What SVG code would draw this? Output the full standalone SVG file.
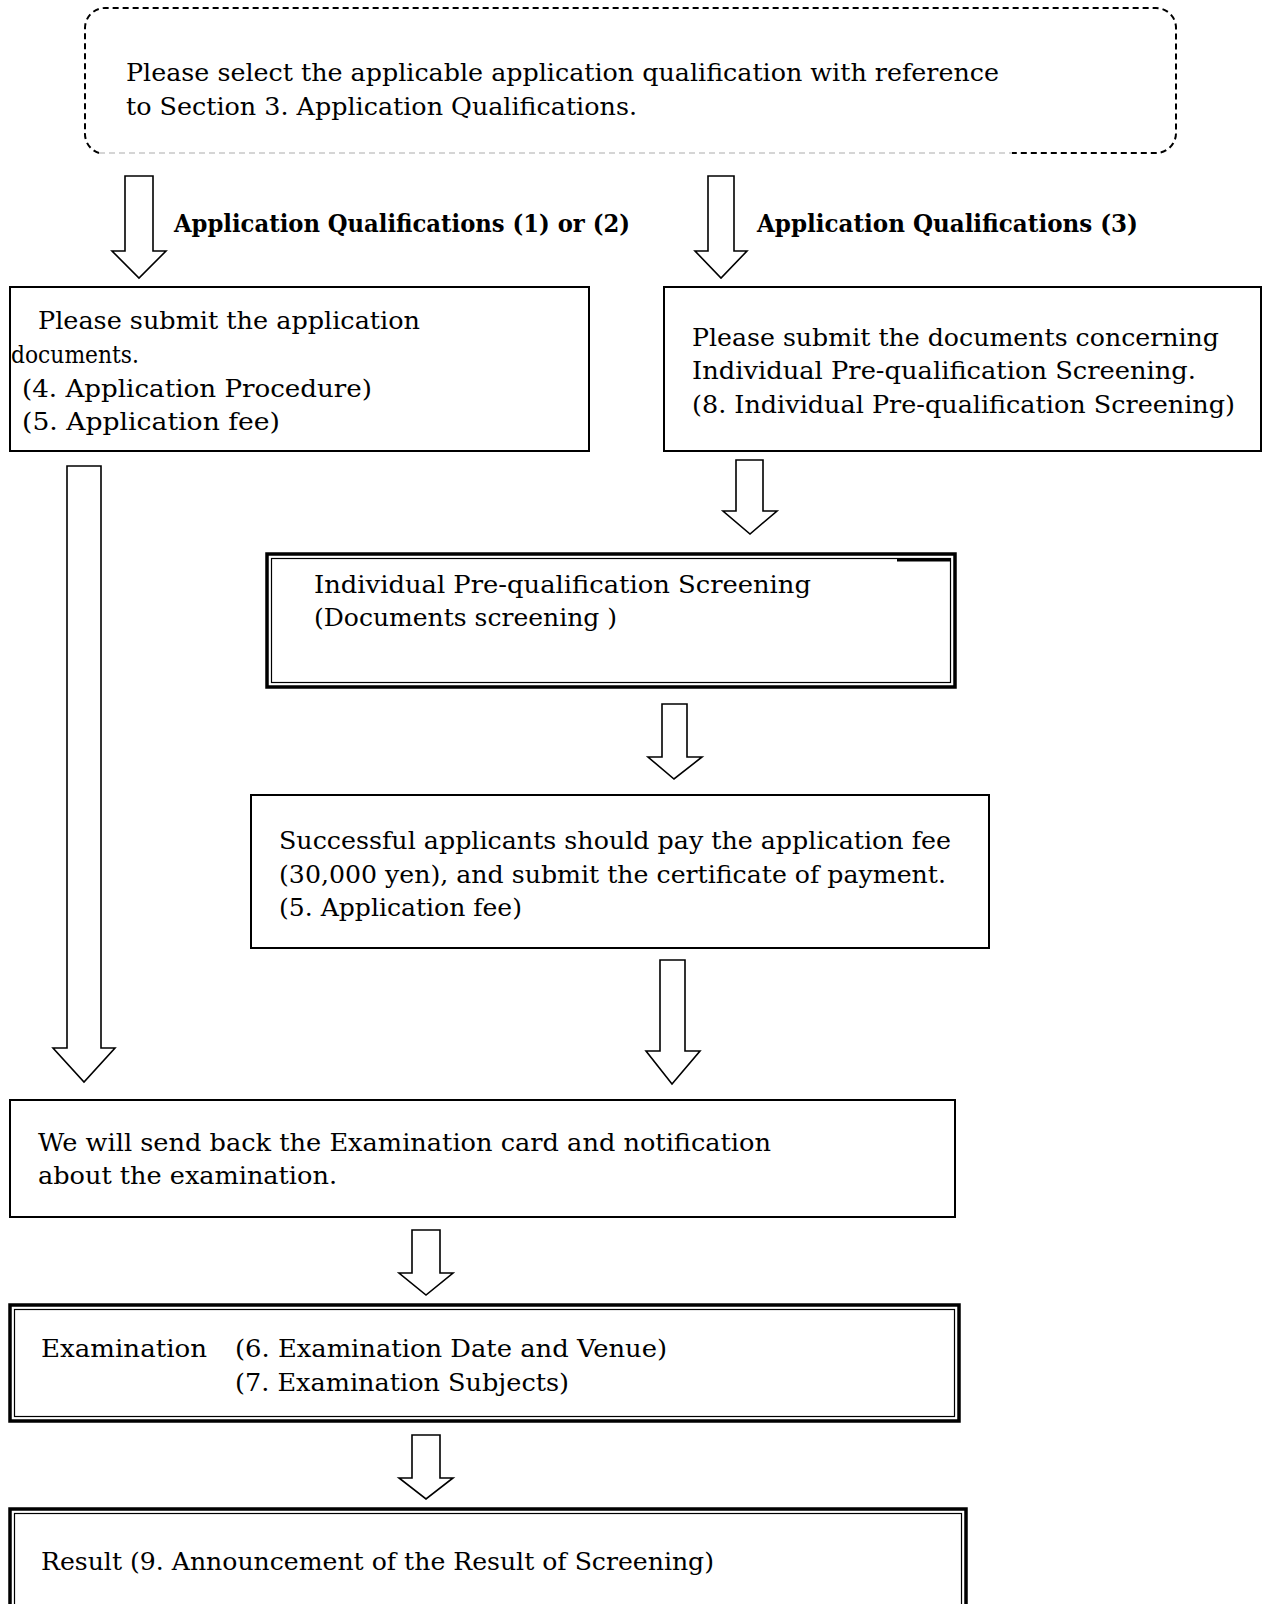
<svg xmlns="http://www.w3.org/2000/svg" width="1263" height="1604" viewBox="0 0 1263 1604">
<style>
.t{font-family:"DejaVu Serif","Liberation Serif",serif;font-size:24px;fill:#000}
.b{font-family:"DejaVu Serif","Liberation Serif",serif;font-size:25px;font-weight:bold;fill:#000}
.box{fill:#fff;stroke:#000;stroke-width:2}
.dbo{fill:#fff;stroke:#000;stroke-width:3.5}
.dbi{fill:none;stroke:#000;stroke-width:1.2}
.arr{fill:#fff;stroke:#000;stroke-width:1.6;stroke-linejoin:miter}
</style>
<rect width="1263" height="1604" fill="#fff"/>

<g id="start">
<path d="M99,153 A20,20 0 0 1 85,133 L85,28 A20,20 0 0 1 105,8 L1156,8 A20,20 0 0 1 1176,28 L1176,133 A20,20 0 0 1 1156,153 L1012,153" fill="none" stroke="#000" stroke-width="2" stroke-dasharray="6,4"/>
<line x1="99" y1="153" x2="1012" y2="153" stroke="#c8c8c8" stroke-width="1.5" stroke-dasharray="6,4"/>
<text class="t" x="126" y="81" textLength="873" lengthAdjust="spacingAndGlyphs">Please select the applicable application qualification with reference</text>
<text class="t" x="126" y="115" textLength="511" lengthAdjust="spacingAndGlyphs">to Section 3. Application Qualifications.</text>
</g>

<g id="label1"><text class="b" x="174" y="232" textLength="456" lengthAdjust="spacingAndGlyphs">Application Qualifications (1) or (2)</text></g>
<g id="label2"><text class="b" x="757" y="232" textLength="381" lengthAdjust="spacingAndGlyphs">Application Qualifications (3)</text></g>

<g id="boxA">
<rect class="box" x="10" y="287" width="579" height="164"/>
<text class="t" x="38" y="329" textLength="382" lengthAdjust="spacingAndGlyphs">Please submit the application</text>
<text class="t" x="11" y="363" textLength="128" lengthAdjust="spacingAndGlyphs">documents.</text>
<text class="t" x="22" y="397" textLength="350" lengthAdjust="spacingAndGlyphs">(4. Application Procedure)</text>
<text class="t" x="22" y="430" textLength="258" lengthAdjust="spacingAndGlyphs">(5. Application fee)</text>
</g>

<g id="boxB">
<rect class="box" x="664" y="287" width="597" height="164"/>
<text class="t" x="692" y="346" textLength="527" lengthAdjust="spacingAndGlyphs">Please submit the documents concerning</text>
<text class="t" x="692" y="379" textLength="504" lengthAdjust="spacingAndGlyphs">Individual Pre-qualification Screening.</text>
<text class="t" x="692" y="413" textLength="543" lengthAdjust="spacingAndGlyphs">(8. Individual Pre-qualification Screening)</text>
</g>

<g id="boxC">
<rect class="dbo" x="267" y="554" width="688" height="133"/>
<rect class="dbi" x="271.5" y="558.5" width="679" height="124"/>
<line x1="897" y1="560" x2="950" y2="560" stroke="#000" stroke-width="3"/>
<text class="t" x="314" y="593" textLength="497" lengthAdjust="spacingAndGlyphs">Individual Pre-qualification Screening</text>
<text class="t" x="314" y="626" textLength="303" lengthAdjust="spacingAndGlyphs">(Documents screening )</text>
</g>

<g id="boxD">
<rect class="box" x="251" y="795" width="738" height="153"/>
<text class="t" x="279" y="849" textLength="672" lengthAdjust="spacingAndGlyphs">Successful applicants should pay the application fee</text>
<text class="t" x="279" y="883" textLength="667" lengthAdjust="spacingAndGlyphs">(30,000 yen), and submit the certificate of payment.</text>
<text class="t" x="279" y="916" textLength="243" lengthAdjust="spacingAndGlyphs">(5. Application fee)</text>
</g>

<g id="boxE">
<rect class="box" x="10" y="1100" width="945" height="117"/>
<text class="t" x="38" y="1151" textLength="733" lengthAdjust="spacingAndGlyphs">We will send back the Examination card and notification</text>
<text class="t" x="38" y="1184" textLength="299" lengthAdjust="spacingAndGlyphs">about the examination.</text>
</g>

<g id="boxF">
<rect class="dbo" x="10" y="1305" width="949" height="116"/>
<rect class="dbi" x="14.5" y="1309.5" width="940" height="107"/>
<text class="t" x="41" y="1357" textLength="166" lengthAdjust="spacingAndGlyphs">Examination</text>
<text class="t" x="235" y="1357" textLength="432" lengthAdjust="spacingAndGlyphs">(6. Examination Date and Venue)</text>
<text class="t" x="235" y="1391" textLength="334" lengthAdjust="spacingAndGlyphs">(7. Examination Subjects)</text>
</g>

<g id="boxG">
<rect class="dbo" x="10" y="1509" width="956" height="120"/>
<rect class="dbi" x="14.5" y="1513.5" width="947" height="111"/>
<text class="t" x="41" y="1570" textLength="673" lengthAdjust="spacingAndGlyphs">Result (9. Announcement of the Result of Screening)</text>
</g>

<g id="connectors">
<polygon class="arr" points="125,176 153,176 153,251 166,251 139,278 112,251 125,251"/>
<polygon class="arr" points="708,176 734,176 734,251 747,251 721,278 695,251 708,251"/>
<polygon class="arr" points="67,466 101,466 101,1048 115,1048 84,1082 53,1048 67,1048"/>
<polygon class="arr" points="736,460 763,460 763,511 777,511 750,534 723,511 736,511"/>
<polygon class="arr" points="662,704 687,704 687,757 702,757 674,779 648,757 662,757"/>
<polygon class="arr" points="660,960 685,960 685,1051 700,1051 672,1084 646,1051 660,1051"/>
<polygon class="arr" points="412,1230 440,1230 440,1273 453,1273 426,1295 399,1273 412,1273"/>
<polygon class="arr" points="412,1435 440,1435 440,1478 453,1478 426,1499 399,1478 412,1478"/>
</g>
</svg>
